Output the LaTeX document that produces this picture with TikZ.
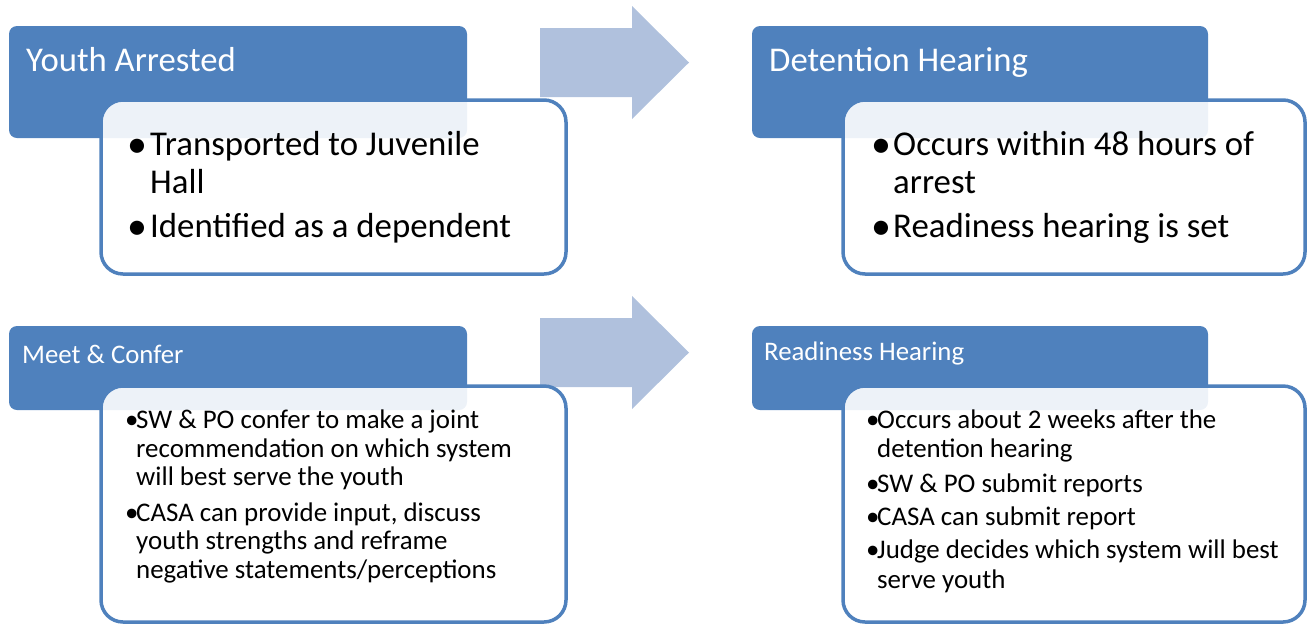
\documentclass[tikz,border=0pt]{standalone}
\usepackage{fontspec}
\setmainfont{Carlito}
\definecolor{hdrblue}{HTML}{4F81BD}
\definecolor{arrowblue}{HTML}{B0C1DD}
\begin{document}
\begin{tikzpicture}[x=1pt,y=-1pt,
  hdr/.style={fill=hdrblue,draw=none,rounded corners=8pt},
  bodybox/.style={draw=hdrblue,line width=3.5pt,fill=white,fill opacity=0.9,rounded corners=22pt},
  bigarrow/.style={fill=arrowblue,draw=none},
  txt/.style={anchor=base west,inner sep=0pt,text=black},
  bigtxt/.style={txt,font=\fontsize{34.8}{40}\selectfont},
  bigbul/.style={txt,font=\fontsize{40}{40}\selectfont},
  smalltxt/.style={txt,font=\fontsize{26.9}{30}\selectfont},
  hdrtxt/.style={anchor=base west,inner sep=0pt,text=white,font=\fontsize{34.7}{40}\selectfont},
  hdrtxtsm/.style={anchor=base west,inner sep=0pt,text=white,font=\fontsize{26.8}{30}\selectfont}]
\useasboundingbox (0,0) rectangle (1308,625);
% arrows
\fill[bigarrow] (540,28) -- (632,28) -- (632,6) -- (689,62.5) -- (632,119) -- (632,97) -- (540,97) -- cycle;
\fill[bigarrow] (540,318) -- (632,318) -- (632,296) -- (689,352.5) -- (632,409) -- (632,387) -- (540,387) -- cycle;
% headers
\fill[hdr] (9,26) rectangle (467,138);
\fill[hdr] (752,26) rectangle (1208,138);
\fill[hdr] (9,326) rectangle (467,410);
\fill[hdr] (752,326) rectangle (1208,410);
% bodies
\draw[bodybox] (101,100) rectangle (566,274);
\draw[bodybox] (843,100) rectangle (1305,274);
\draw[bodybox] (101,386) rectangle (566,622);
\draw[bodybox] (843,386) rectangle (1305,622);
% header texts
\node[hdrtxt] (h1) at (26,71) {Youth Arrested};
\node[hdrtxt] (h2) at (769,71) {Detention Hearing};
\node[hdrtxtsm] (h3) at (22,363) {Meet \& Confer};
\node[hdrtxtsm] (h4) at (764,360) {Readiness Hearing};
% top-left body
\node[bigbul] (a1b) at (127,157) {\textbullet};
\node[bigtxt] (a1) at (150,155) {Transported to Juvenile};
\node[bigtxt] (a1c) at (150,193) {Hall};
\node[bigbul] (a2b) at (127,239) {\textbullet};
\node[bigtxt] (a2) at (150,237) {Identified as a dependent};
% top-right body
\node[bigbul] (b1b) at (871,157) {\textbullet};
\node[bigtxt] (b1) at (893,155) {Occurs within 48 hours of};
\node[bigtxt] (b1c) at (893,193) {arrest};
\node[bigbul] (b2b) at (871,239) {\textbullet};
\node[bigtxt] (b2) at (893,237) {Readiness hearing is set};
% bottom-left body
\node[smalltxt] (c1b) at (125,428) {\textbullet};
\node[smalltxt] (c1) at (136,428) {SW \& PO confer to make a joint};
\node[smalltxt] (c1c) at (136,457) {recommendation on which system};
\node[smalltxt] (c1d) at (136,485) {will best serve the youth};
\node[smalltxt] (c2b) at (125,521) {\textbullet};
\node[smalltxt] (c2) at (136,521) {CASA can provide input, discuss};
\node[smalltxt] (c2c) at (136,549) {youth strengths and reframe};
\node[smalltxt] (c2d) at (136,578) {negative statements/perceptions};
% bottom-right body
\node[smalltxt] (d1b) at (866,428) {\textbullet};
\node[smalltxt] (d1) at (877,428) {Occurs about 2 weeks after the};
\node[smalltxt] (d1c) at (877,457) {detention hearing};
\node[smalltxt] (d2b) at (866,492) {\textbullet};
\node[smalltxt] (d2) at (877,492) {SW \& PO submit reports};
\node[smalltxt] (d3b) at (866,525) {\textbullet};
\node[smalltxt] (d3) at (877,525) {CASA can submit report};
\node[smalltxt] (d4b) at (866,558) {\textbullet};
\node[smalltxt] (d4) at (877,558) {Judge decides which system will best};
\node[smalltxt] (d4c) at (877,588) {serve youth};
\end{tikzpicture}
\end{document}
